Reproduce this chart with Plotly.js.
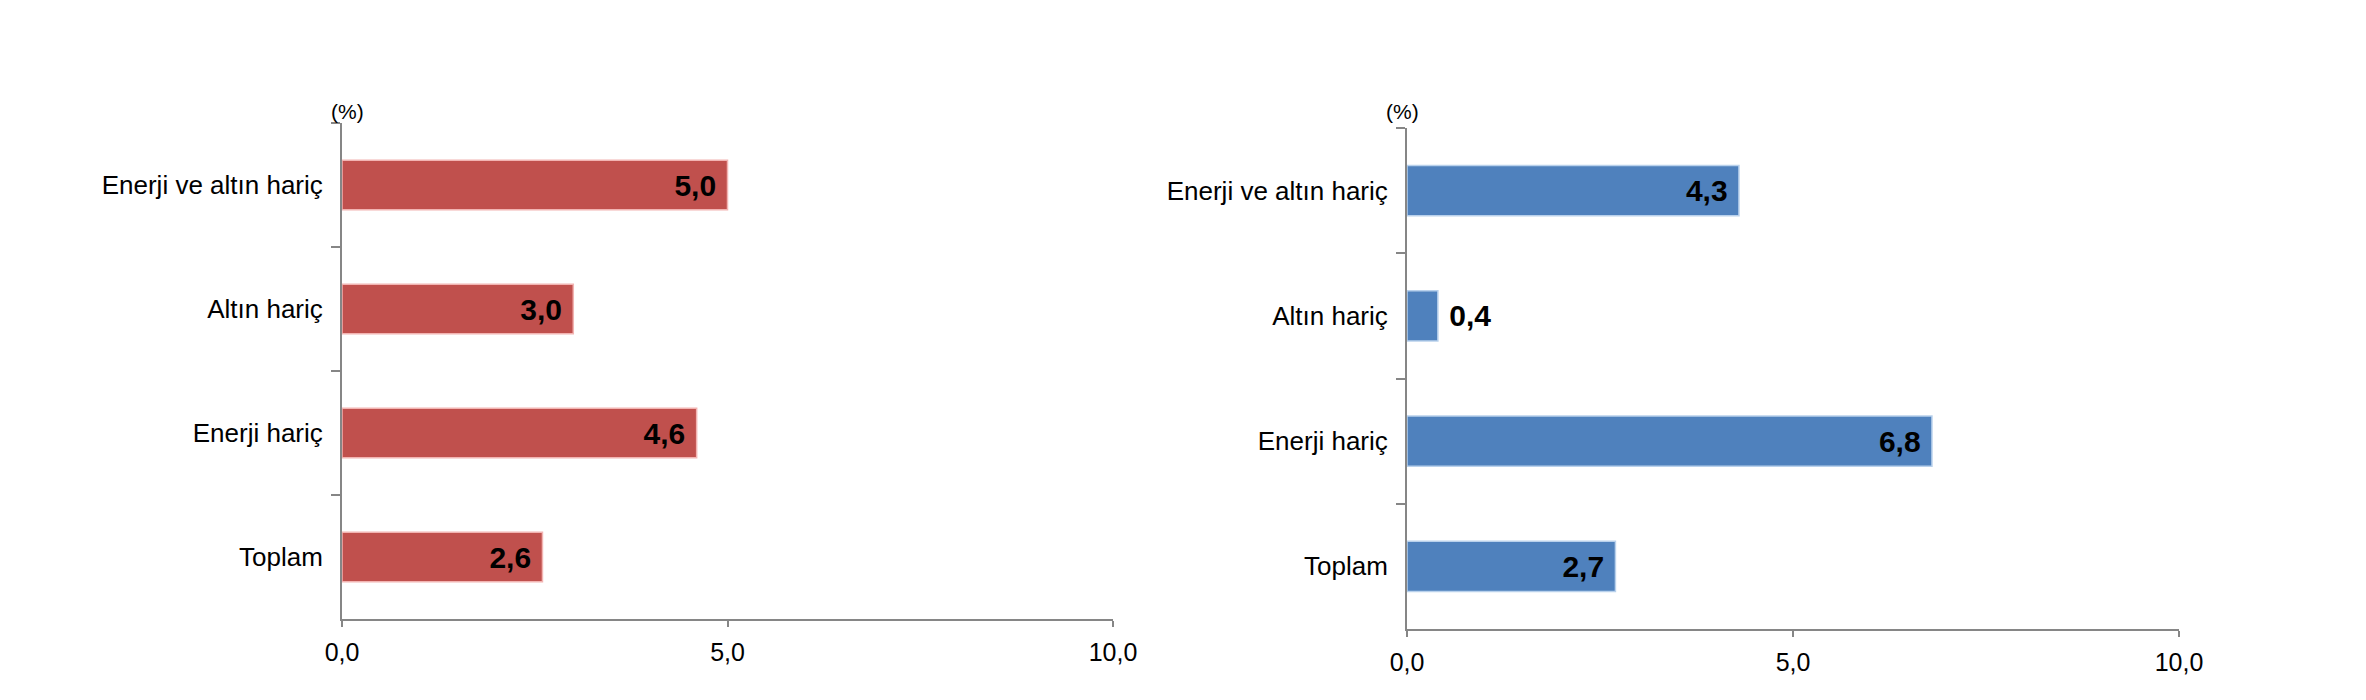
<!DOCTYPE html>
<html>
<head>
<meta charset="utf-8">
<script src="https://cdn.plot.ly/plotly-3.0.1.min.js"></script>
<style>
  html, body { margin: 0; padding: 0; background: #fff; }
  #chart { width: 2366px; height: 700px; }
</style>
</head>
<body>
<div id="chart"></div>
<script>
// Two side-by-side Excel-style bar panels, top-to-bottom category order.
const categories = ["Enerji ve altın hariç", "Altın hariç", "Enerji hariç", "Toplam"];
const leftValues = [5.0, 3.0, 4.6, 2.6];
const rightValues = [4.3, 0.4, 6.8, 2.7];
const xTicks = [0, 5, 10];
const xTickText = ["0,0", "5,0", "10,0"];

const FONT = "Liberation Sans, Arial, sans-serif";
const AXIS_GRAY = "#868686";

// comma decimals, padded with nbsp so the label sits off the bar end like Excel does
function labels(vals) {
  return vals.map((v) => {
    const s = "<b>" + v.toFixed(1).replace(".", ",") + "</b>";
    return v < 1 ? "\u00a0" + s : s + "\u00a0";
  });
}
function positions(vals) {
  return vals.map((v) => (v < 1 ? "outside" : "inside"));
}

function barTrace(vals, fill, edge, xa, ya) {
  return {
    type: "bar", orientation: "h",
    x: vals, y: categories,
    xaxis: xa, yaxis: ya,
    marker: { color: fill, line: { color: edge, width: 1.5 } },
    text: labels(vals),
    textposition: positions(vals),
    insidetextanchor: "end",
    textfont: { family: FONT, size: 30, color: "#000" },
    cliponaxis: false,
    hoverinfo: "skip",
  };
}

const xBase = {
  range: [0, 10], tickvals: xTicks, ticktext: xTickText,
  showgrid: false, zeroline: false, showline: true,
  linecolor: AXIS_GRAY, linewidth: 2,
  ticks: "outside", ticklen: 6, tickwidth: 2, tickcolor: AXIS_GRAY,
  ticklabelstandoff: 4,
  tickfont: { family: FONT, size: 25, color: "#000" },
  fixedrange: true,
};
const yBase = {
  type: "category", autorange: "reversed",
  showgrid: false, zeroline: false, showline: true,
  linecolor: AXIS_GRAY, linewidth: 2,
  ticks: "outside", tickson: "boundaries", ticklen: 9, tickwidth: 2, tickcolor: AXIS_GRAY,
  ticklabelstandoff: 12,
  tickfont: { family: FONT, size: 26, color: "#000" },
  fixedrange: true,
};

const layout = {
  width: 2366, height: 700,
  margin: { l: 0, r: 0, t: 0, b: 0 },
  paper_bgcolor: "#fff", plot_bgcolor: "#fff",
  showlegend: false,
  bargap: 0.6,
  xaxis: { ...xBase, domain: [342 / 2366, 1113 / 2366], anchor: "y" },
  yaxis: { ...yBase, domain: [1 - 619 / 700, 1 - 123 / 700], anchor: "x" },
  xaxis2: { ...xBase, domain: [1407 / 2366, 2179 / 2366], anchor: "y2" },
  yaxis2: { ...yBase, domain: [1 - 629 / 700, 1 - 128 / 700], anchor: "x2" },
  annotations: [
    { text: "(%)", xref: "paper", yref: "paper", x: 347 / 2366, y: 1 - 111 / 700,
      xanchor: "center", yanchor: "middle",
      showarrow: false, font: { family: FONT, size: 21, color: "#000" } },
    { text: "(%)", xref: "paper", yref: "paper", x: 1402 / 2366, y: 1 - 111 / 700,
      xanchor: "center", yanchor: "middle",
      showarrow: false, font: { family: FONT, size: 21, color: "#000" } },
  ],
};

Plotly.newPlot("chart", [
  barTrace(leftValues, "#C0504D", "#f2b4b2", "x", "y"),
  barTrace(rightValues, "#4F81BD", "#b9d1ec", "x2", "y2"),
], layout, { displayModeBar: false, staticPlot: true });
</script>
</body>
</html>
